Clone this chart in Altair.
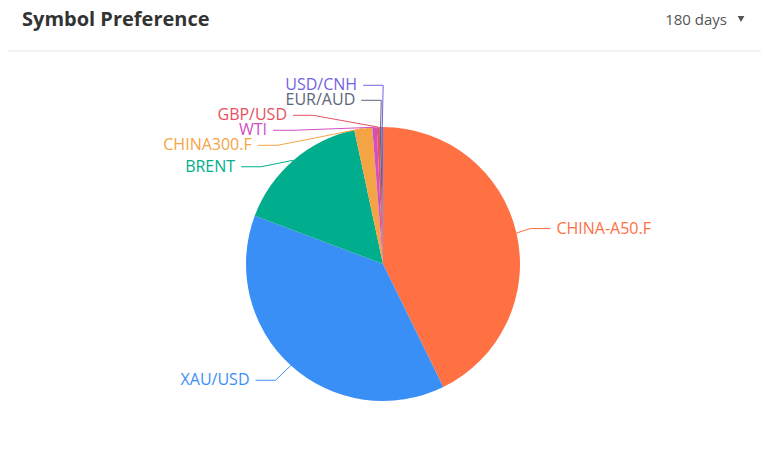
import math
import altair as alt
import pandas as pd

# ---- data ----
symbols = ["CHINA-A50.F", "XAU/USD", "BRENT", "CHINA300.F", "WTI", "GBP/USD", "EUR/AUD", "USD/CNH"]
shares = [42.75, 37.97, 15.92, 2.11, 0.53, 0.33, 0.22, 0.17]
colors = ["#ff7043", "#3a8ff7", "#00ad8c", "#f5a445", "#d24fc4", "#e5525e", "#5c6679", "#7263e6"]
title_text = "Symbol Preference"
period_text = "180 days"

# ---- layout constants ----
W, H = 753, 460
CX, CY, R = 375, 256, 137
LEN1, LEN2, GAP, LINE_GAP, LABEL_H = 20, 20, 5, 6, 15

# ---- outer-label layout (pie label avoid-overlap, computed from the shares) ----
total = sum(shares)
items = []
acc = 0.0
for i, (s, v) in enumerate(zip(symbols, shares)):
    mid = (acc + v / 2) / total * 2 * math.pi
    acc += v
    dx, dy = math.sin(mid), -math.cos(mid)
    x1, y1 = CX + R * dx, CY + R * dy
    x2, y2 = CX + (R + LEN1) * dx, CY + (R + LEN1) * dy
    d = -1 if dx < 0 else 1
    x3 = x2 + d * LEN2
    items.append(dict(idx=i, sym=s, dir=d, x=x3 + d * GAP, y=y2, p1=(x1, y1)))


def adjust(lst, d):
    lst.sort(key=lambda o: o["y"])
    n = len(lst)
    if n == 0:
        return

    def shift_up(end, delta):
        for j in range(end, -1, -1):
            if lst[j]["y"] - delta < 0:
                break
            lst[j]["y"] -= delta
            if j > 0 and lst[j]["y"] > lst[j - 1]["y"] + LABEL_H:
                break

    def shift_down(start, end, delta):
        for j in range(start, end):
            if lst[j]["y"] + delta > H:
                break
            lst[j]["y"] += delta
            if j > start and j + 1 < end and lst[j + 1]["y"] > lst[j]["y"] + LABEL_H:
                shift_up(j, delta / 2)
                return
        shift_up(end - 1, delta / 2)

    last = 0
    for i in range(n):
        delta = lst[i]["y"] - last
        if delta < 0:
            shift_down(i, n, -delta)
        last = lst[i]["y"] + LABEL_H
    if H - last < 0:
        shift_up(n - 1, last - H)

    def change_x(sub, is_down):
        last_dx = float("inf") if is_down else 0
        for o in sub:
            ddy = abs(o["y"] - CY)
            if ddy < R + LEN1:
                ddx = math.sqrt((R + LEN1 + LEN2) ** 2 - ddy ** 2)
            else:
                ddx = abs(o["x"] - CX)
            if is_down and ddx >= last_dx:
                ddx = last_dx - 10
            if (not is_down) and ddx <= last_dx:
                ddx = last_dx + 10
            o["x"] = CX + ddx * d
            last_dx = ddx

    change_x([o for o in lst if o["y"] < CY], False)
    change_x([o for o in lst if o["y"] >= CY], True)


adjust([o for o in items if o["dir"] < 0], -1)
adjust([o for o in items if o["dir"] > 0], 1)

line_rows, text_rows = [], []
for o in items:
    d = o["dir"]
    p3x = o["x"] - d * LINE_GAP
    p2x = p3x - d * LEN2
    pts = [o["p1"], (p2x, o["y"]), (p3x, o["y"])]
    for k, (px, py) in enumerate(pts):
        line_rows.append(dict(sym=o["sym"], k=k, px=px, py=py))
    text_rows.append(dict(sym=o["sym"], tx=o["x"], ty=o["y"], side="L" if d < 0 else "R"))

slices = pd.DataFrame({"sym": symbols, "share": shares, "idx": list(range(len(symbols)))})
lines = pd.DataFrame(line_rows)
texts = pd.DataFrame(text_rows)

FONT = "Open Sans"
xs = alt.Scale(domain=[0, W], range=[0, W], nice=False, zero=False)
ys = alt.Scale(domain=[0, H], range=[0, H], nice=False, zero=False)
cs = alt.Scale(domain=symbols, range=colors)

pie = alt.Chart(slices).mark_arc(radius=R).encode(
    theta=alt.Theta("share:Q", stack=True),
    order=alt.Order("idx:Q"),
    color=alt.Color("sym:N", scale=cs, legend=None),
    x=alt.value(CX),
    y=alt.value(CY),
)

leader = alt.Chart(lines).mark_line(strokeWidth=1).encode(
    x=alt.X("px:Q", scale=xs, axis=None),
    y=alt.Y("py:Q", scale=ys, axis=None),
    color=alt.Color("sym:N", scale=cs, legend=None),
    detail="sym:N",
    order="k:Q",
)

lab_l = alt.Chart(texts).transform_filter(alt.datum.side == "L").mark_text(
    align="right", baseline="middle", font=FONT, fontSize=16
).encode(
    x=alt.X("tx:Q", scale=xs, axis=None),
    y=alt.Y("ty:Q", scale=ys, axis=None),
    text="sym:N",
    color=alt.Color("sym:N", scale=cs, legend=None),
)
lab_r = alt.Chart(texts).transform_filter(alt.datum.side == "R").mark_text(
    align="left", baseline="middle", font=FONT, fontSize=16
).encode(
    x=alt.X("tx:Q", scale=xs, axis=None),
    y=alt.Y("ty:Q", scale=ys, axis=None),
    text="sym:N",
    color=alt.Color("sym:N", scale=cs, legend=None),
)

hdr = pd.DataFrame({"t": [title_text], "p": [period_text]})
title = alt.Chart(hdr).mark_text(
    align="left", baseline="middle", font=FONT, fontSize=20, fontWeight="bold", color="#333333"
).encode(x=alt.value(14), y=alt.value(12), text="t:N")
period = alt.Chart(hdr).mark_text(
    align="right", baseline="middle", font=FONT, fontSize=15, color="#555555"
).encode(x=alt.value(719), y=alt.value(12), text="p:N")
caret = alt.Chart(hdr).mark_point(
    shape="triangle-down", filled=True, size=45, color="#555555", opacity=1
).encode(x=alt.value(733), y=alt.value(11))
sep = alt.Chart(hdr).mark_rule(color="#e6e6e6", strokeWidth=1).encode(
    x=alt.value(0), x2=alt.value(W), y=alt.value(43)
)

chart = alt.layer(pie, leader, lab_l, lab_r, title, period, caret, sep).properties(
    width=W, height=H, padding=0, autosize=alt.AutoSizeParams(type="none")
).configure_view(stroke=None)

chart.save("out.html", embed_options={"renderer": "svg", "actions": False})
